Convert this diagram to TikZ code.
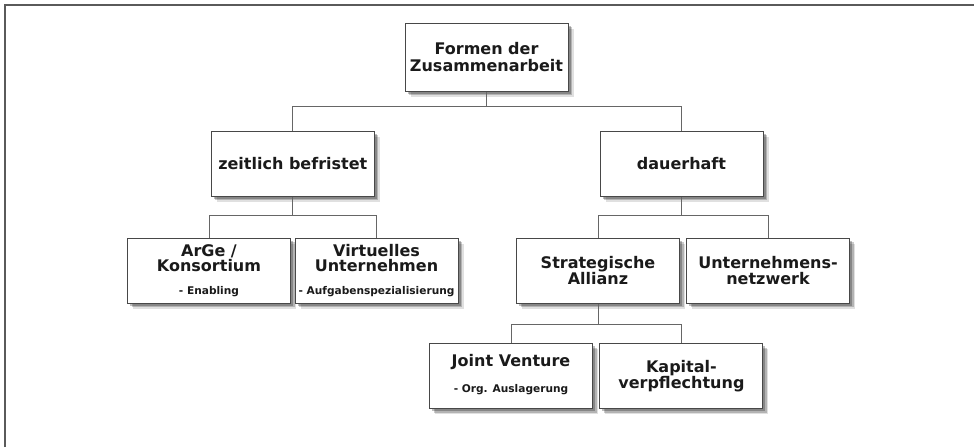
\documentclass[tikz,border=0pt]{standalone}
\usepackage{fontspec}
\setmainfont{DejaVu Sans}
\usetikzlibrary{shadows}
\definecolor{boxline}{HTML}{484848}
\definecolor{connline}{HTML}{666666}
\definecolor{txt}{HTML}{1A1A1A}
\definecolor{frameline}{HTML}{5A5A5A}
\begin{document}
\begin{tikzpicture}[x=1pt,y=-1pt,
  box/.style={draw=boxline, line width=1pt, fill=white,
    minimum width=163pt, minimum height=65pt, inner sep=0pt,
    align=center, text=txt,
    font=\fontsize{16}{16.5}\selectfont\bfseries,
    drop shadow={shadow xshift=5.5pt, shadow yshift=-5.5pt, fill=black, opacity=0.12},
    drop shadow={shadow xshift=4pt, shadow yshift=-4pt, fill=black, opacity=0.2},
    drop shadow={shadow xshift=2.5pt, shadow yshift=-2.5pt, fill=black, opacity=0.25}},
  ttl/.style={inner sep=0pt, align=center, text=txt,
    font=\fontsize{16}{15}\selectfont\bfseries},
  subttl/.style={inner sep=0pt, align=center, text=txt,
    font=\fontsize{10.6}{11}\selectfont\bfseries},
  conn/.style={draw=connline, line width=0.9pt},
  frame/.style={draw=frameline, line width=1.8pt}]
\useasboundingbox (0,0) rectangle (974,447);
\draw[frame] (5,447) -- (5,5) -- (974,5);

% boxes
\node[box, minimum height=68pt] (root) at (486.5,57) {Formen der\\Zusammenarbeit};
\node[box] (zb) at (292.8,163.7) {zeitlich befristet};
\node[box] (dh) at (681.5,163.7) {dauerhaft};
\node[box] (arge) at (209,270.5) {};
\node[box] (vu) at (376.5,270.5) {};
\node[box] (sa) at (598,270.5) {Strategische\\Allianz};
\node[box] (un) at (768,270.5) {Unternehmens-\\netzwerk};
\node[box] (jv) at (511,376) {};
\node[box] (kv) at (681.4,376) {Kapital-\\verpflechtung};

% texts inside boxes with subtitles
\node[ttl] (arge-t) at (209,258) {ArGe /\\Konsortium};
\node[subttl] (arge-s) at (209,292) {- Enabling};
\node[ttl] (vu-t) at (376.5,258) {Virtuelles\\Unternehmen};
\node[subttl] (vu-s) at (376.5,292) {- Aufgabenspezialisierung};
\node[ttl] (jv-t) at (511,362.5) {Joint Venture};
\node[subttl] (jv-s) at (511,390) {- Org. Auslagerung};

% junctions
\coordinate (j1) at (486.5,106.5);
\coordinate (j2) at (292.8,215.5);
\coordinate (j3) at (681.5,215.5);
\coordinate (j4) at (598,324);

% connectors
\draw[conn] (root.south) -- (j1);
\draw[conn] (j1) -| (zb.north);
\draw[conn] (j1) -| (dh.north);
\draw[conn] (zb.south) -- (j2);
\draw[conn] (j2) -| (arge.north);
\draw[conn] (j2) -| (vu.north);
\draw[conn] (dh.south) -- (j3);
\draw[conn] (j3) -| (sa.north);
\draw[conn] (j3) -| (un.north);
\draw[conn] (sa.south) -- (j4);
\draw[conn] (j4) -| (jv.north);
\draw[conn] (j4) -| (kv.north);
\end{tikzpicture}
\end{document}
